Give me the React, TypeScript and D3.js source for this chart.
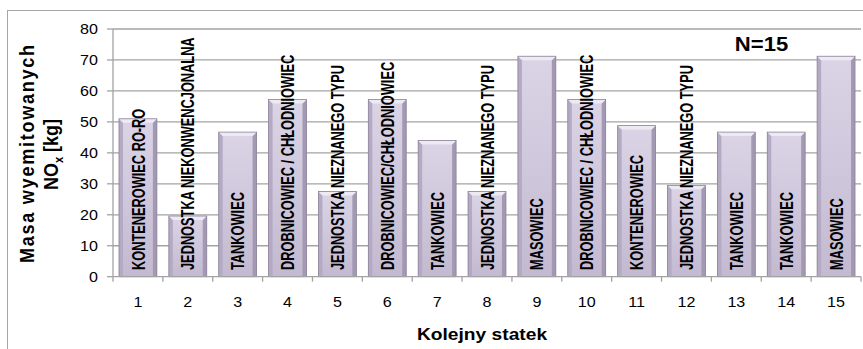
import React from "react";
import * as d3 from "d3";

// Ship sequence numbers, NOx mass per ship [kg] and ship types
const ships = ["1", "2", "3", "4", "5", "6", "7", "8", "9", "10", "11", "12", "13", "14", "15"];
const noxMass = [51, 19.6, 46.7, 57.2, 27.5, 57.2, 44, 27.5, 71.2, 57.2, 48.8, 29.5, 46.7, 46.7, 71.2];
const shipTypes = [
  "KONTENEROWIEC RO-RO",
  "JEDNOSTKA NIEKONWENCJONALNA",
  "TANKOWIEC",
  "DROBNICOWIEC / CHŁODNIOWIEC",
  "JEDNOSTKA NIEZNANEGO TYPU",
  "DROBNICOWIEC/CHŁODNIOWIEC",
  "TANKOWIEC",
  "JEDNOSTKA NIEZNANEGO TYPU",
  "MASOWIEC",
  "DROBNICOWIEC / CHŁODNIOWIEC",
  "KONTENEROWIEC",
  "JEDNOSTKA NIEZNANEGO TYPU",
  "TANKOWIEC",
  "TANKOWIEC",
  "MASOWIEC",
];
const yTicks = [0, 10, 20, 30, 40, 50, 60, 70, 80];

const W = 863;
const H = 349;
const plot = { left: 113, right: 861, top: 29, bottom: 276.7 };
const FONT = "'Liberation Sans', Arial, sans-serif";

export default function App() {
  const x = d3.scaleBand<string>().domain(ships).range([plot.left, plot.right]).padding(0);
  const y = d3.scaleLinear().domain([0, 80]).range([plot.bottom, plot.top]);
  const step = x.bandwidth();
  const barW = step * 0.76;
  const bev = 4;
  const gridColor = "#a3a3a3";

  return (
    <svg
      width={W}
      height={H}
      style={{ position: "absolute", left: 0, top: 0, background: "#fff" }}
      fontFamily={FONT}
    >
      <defs>
        <linearGradient id="barFace" x1="0" y1="0" x2="0" y2="1">
          <stop offset="0" stopColor="#dbd4e6" />
          <stop offset="1" stopColor="#c3bad1" />
        </linearGradient>
      </defs>

      {/* chart frame */}
      <rect x={7.5} y={10.5} width={W + 10} height={H + 10} fill="#fff" stroke="#a6a6a6" strokeWidth={1} />

      {/* horizontal gridlines */}
      {yTicks.slice(1).map((t) => (
        <line key={t} x1={plot.left} x2={plot.right} y1={y(t)} y2={y(t)} stroke={gridColor} strokeWidth={1.3} />
      ))}

      {/* y axis */}
      <line x1={plot.left} x2={plot.left} y1={plot.top} y2={plot.bottom} stroke={gridColor} strokeWidth={1.3} />
      {yTicks.map((t) => (
        <g key={t}>
          <line x1={plot.left - 6} x2={plot.left} y1={y(t)} y2={y(t)} stroke={gridColor} strokeWidth={1.3} />
          <text
            transform={`translate(98,${y(t) + 5}) scale(1.15,1)`}
            textAnchor="end"
            fontSize={14}
            fill="#000"
          >
            {t}
          </text>
        </g>
      ))}

      {/* bars */}
      {noxMass.map((v, i) => {
        const x0 = (x(ships[i]) as number) + (step - barW) / 2;
        const top = y(v);
        const bot = y(0);
        const x1 = x0 + barW;
        return (
          <g key={i}>
            <rect x={x0} y={top} width={barW} height={bot - top} fill="url(#barFace)" />
            <polygon
              points={`${x0},${top} ${x0 + bev},${top + bev} ${x0 + bev},${bot} ${x0},${bot}`}
              fill="#b4aac3"
            />
            <polygon
              points={`${x1},${top} ${x1 - bev},${top + bev} ${x1 - bev},${bot} ${x1},${bot}`}
              fill="#a499b3"
            />
            <polygon
              points={`${x0},${top} ${x1},${top} ${x1 - bev},${top + bev} ${x0 + bev},${top + bev}`}
              fill="#eeeaf3"
            />
            <rect x={x0} y={top} width={barW} height={bot - top} fill="none" stroke="#8a8098" strokeWidth={0.8} />
          </g>
        );
      })}

      {/* x axis */}
      <line x1={plot.left} x2={plot.right} y1={plot.bottom} y2={plot.bottom} stroke={gridColor} strokeWidth={1.3} />
      {ships.map((s, i) => (
        <line
          key={s}
          x1={plot.left + step * i}
          x2={plot.left + step * i}
          y1={plot.bottom}
          y2={plot.bottom + 5}
          stroke={gridColor}
          strokeWidth={1.3}
        />
      ))}
      <line x1={plot.right} x2={plot.right} y1={plot.bottom} y2={plot.bottom + 5} stroke={gridColor} strokeWidth={1.3} />
      {ships.map((s) => (
        <text
          key={s}
          transform={`translate(${(x(s) as number) + step / 2},307) scale(1.15,1)`}
          textAnchor="middle"
          fontSize={14}
          fill="#000"
        >
          {s}
        </text>
      ))}

      {/* ship type labels, rotated inside the bars */}
      {shipTypes.map((label, i) => {
        const cx = (x(ships[i]) as number) + step / 2;
        return (
          <text
            key={i}
            transform={`translate(${cx},270) rotate(-90) scale(1,1.43)`}
            textAnchor="start"
            fontSize={12.8}
            fontWeight="bold"
            dy="0.36em"
            fill="#000"
          >
            {label}
          </text>
        );
      })}

      {/* axis titles */}
      <text
        transform={`translate(34.3,154) rotate(-90) scale(1,1.16)`}
        textAnchor="middle"
        fontSize={18}
        fontWeight="bold"
        textLength={218}
        lengthAdjust="spacing"
        fill="#000"
      >
        Masa wyemitowanych
      </text>
      <text
        transform={`translate(58.3,154.5) rotate(-90) scale(1,1.16)`}
        textAnchor="middle"
        fontSize={18}
        fontWeight="bold"
        fill="#000"
      >
        NO
        <tspan fontSize={11} dy={4}>x</tspan>
        <tspan dy={-4}> [kg]</tspan>
      </text>
      <text
        transform={`translate(482,340) scale(1.13,1)`}
        textAnchor="middle"
        fontSize={17}
        fontWeight="bold"
        fill="#000"
      >
        Kolejny statek
      </text>

      {/* sample size */}
      <text
        transform={`translate(761.5,51) scale(1.05,1)`}
        textAnchor="middle"
        fontSize={21}
        fontWeight="bold"
        fill="#000"
      >
        N=15
      </text>
    </svg>
  );
}
